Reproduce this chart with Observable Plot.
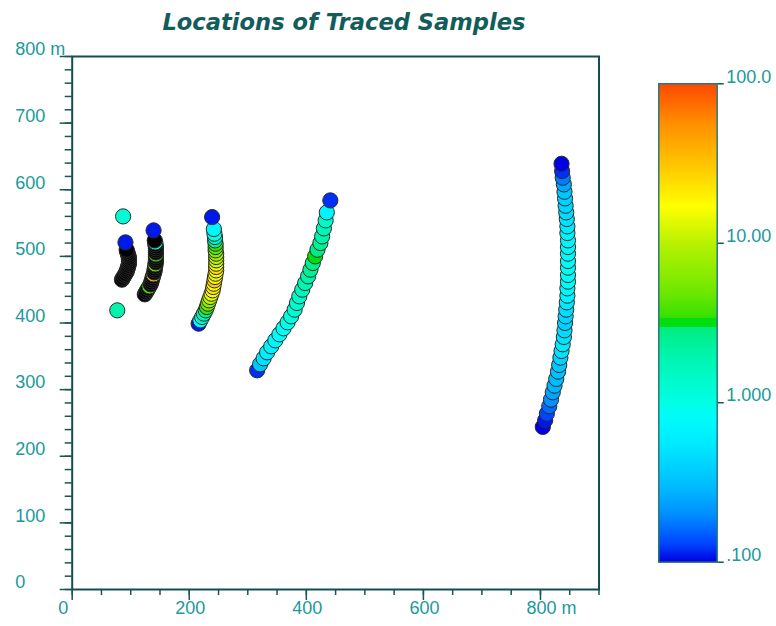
<!DOCTYPE html>
<html><head><meta charset="utf-8">
<script src="https://cdn.jsdelivr.net/npm/d3@7"></script>
<script src="https://cdn.jsdelivr.net/npm/@observablehq/plot@0.6"></script>
<style>
html,body{margin:0;padding:0;background:#fff;}
#wrap{position:relative;width:776px;height:626px;overflow:hidden;background:#fff;}
#title{position:absolute;left:0;width:688px;top:11px;text-align:center;font-family:"DejaVu Sans",sans-serif;font-style:italic;font-weight:bold;font-size:22.6px;line-height:22px;color:#135c5c;white-space:nowrap;}
#main{position:absolute;left:0;top:0;}
#bar{position:absolute;left:640px;top:0;}
svg{overflow:visible;}
</style></head><body>
<div id="wrap"><div id="title">Locations of Traced Samples</div><div id="main"></div><div id="bar"></div></div>
<script>
// ---- axis ticks and labels ----
const xMajor = [0, 200, 400, 600, 800];
const xTickLabels = ["0", "200", "400", "600", "800 m"];
const yMajor = [0, 100, 200, 300, 400, 500, 600, 700, 800];
const yTickLabels = ["0", "100", "200", "300", "400", "500", "600", "700", "800 m"];
const xMinor = d3.range(0, 901, 50);
const yMinor = d3.range(0, 801, 20);
const cbTicks = [0.1, 1, 10, 100];
const cbLabels = [".100", "1.000", "10.00", "100.0"];

// ---- colour scale (log, piecewise) ----
const colorStops = [0.1, 0.13, 0.2, 0.3, 0.55, 0.8, 1.0, 2.0, 2.93, 2.95, 3.38, 3.4, 5, 10, 17, 30, 55, 100];
const colorHexes = ["#0000e0", "#0044ff", "#0090ff", "#00bcff", "#00eaff", "#00fcf8", "#00ffe4", "#00f4aa", "#00ec80", "#00de12", "#00de12", "#34e000", "#70e800", "#b8f200", "#ffff00", "#ffc800", "#ff9000", "#ff4800"];

// ---- samples: group 1 (left, mostly unmeasured = null) ----
const g1X = [77, 85, 87, 89, 91, 93, 94, 95, 96, 97, 97, 97, 97, 96, 95, 94, 93, 91, 87];
const g1Y = [419, 465, 468, 471, 474, 477, 480, 483, 486, 489, 492, 495, 498, 501, 504, 507, 510, 521, 560];
const g1V = [2.0, null, null, null, null, null, null, null, null, null, null, null, null, null, null, null, null, 0.11, 1.2];

// group 2
const g2X = [124, 126, 128, 130, 132, 134, 135, 136, 137, 138, 139, 140, 141, 141, 142, 142, 143, 143, 143, 143, 143, 143, 143, 143, 143, 142, 142, 141, 139];
const g2Y = [443, 446, 449, 452, 455, 458, 461, 464, 467, 470, 473, 476, 479, 482, 485, 488, 491, 494, 497, 500, 503, 506, 509, 512, 515, 518, 521, 524, 539];
const g2V = [null, null, null, null, 4, null, null, null, null, null, 35, null, null, null, null, 5, null, null, null, null, 3.5, null, null, null, null, null, 1.0, null, 0.11];

// group 3
const g3X = [216, 219, 222, 225, 228, 230, 232, 234, 236, 238, 240, 241, 242, 243, 244, 245, 246, 246, 246, 246, 246, 246, 245, 245, 245, 244, 244, 243, 242, 239];
const g3Y = [399, 404, 409, 414, 419, 424, 429, 434, 439, 444, 449, 454, 459, 464, 469, 474, 479, 484, 489, 494, 499, 504, 509, 514, 519, 524, 529, 534, 541, 559];
const g3V = [0.11, 0.8, 1.2, 1.8, 2.5, 3.6, 5, 7, 10, 14, 18, 22, 16, 30, 20, 14, 18, 25, 15, 12, 10, 8, 6, 4.5, 3.5, 2.2, 1.5, 1.0, 0.7, 0.11];

// group 4
const g4X = [316, 321, 327, 333, 340, 347, 354, 361, 368, 374, 380, 384, 388, 393, 398, 403, 407, 411, 415, 419, 424, 427, 430, 433, 435, 441];
const g4Y = [329, 338, 347, 356, 365, 374, 383, 392, 401, 410, 420, 430, 440, 450, 460, 470, 480, 490, 500, 510, 520, 530, 542, 554, 566, 584];
const g4V = [0.12, 0.35, 0.5, 0.6, 0.65, 0.7, 0.8, 0.85, 0.95, 1.1, 1.2, 1.3, 1.4, 1.6, 1.8, 2.0, 2.4, 2.7, 3.2, 2.8, 2.4, 2.0, 1.7, 1.4, 0.7, 0.12];

// group 5 (right)
const g5X = [804, 808, 811, 815, 818, 821, 824, 827, 830, 832, 834, 836, 838, 840, 841, 842, 843, 844, 845, 846, 846, 847, 847, 847, 847, 847, 847, 847, 846, 846, 845, 844, 843, 842, 841, 840, 838, 837, 836];
const g5Y = [244, 254, 264, 275, 285, 296, 306, 316, 327, 337, 348, 358, 368, 379, 389, 400, 410, 420, 431, 441, 452, 462, 472, 483, 493, 504, 514, 524, 535, 545, 556, 566, 576, 587, 597, 608, 618, 628, 639];
const g5V = [0.1, 0.11, 0.13, 0.16, 0.2, 0.24, 0.28, 0.3, 0.32, 0.35, 0.4, 0.5, 0.55, 0.5, 0.45, 0.4, 0.42, 0.45, 0.55, 0.65, 0.72, 0.78, 0.8, 0.82, 0.8, 0.75, 0.72, 0.7, 0.65, 0.55, 0.5, 0.45, 0.42, 0.4, 0.35, 0.25, 0.18, 0.12, 0.1];

const groups = [[g1X, g1Y, g1V], [g2X, g2Y, g2V], [g3X, g3Y, g3V], [g4X, g4Y, g4V], [g5X, g5Y, g5V]];
const samples = [];
groups.forEach(([xs, ys, vs], g) => xs.forEach((x, i) => samples.push({g, x, y: ys[i], v: vs[i]})));

const labelColor = "#1a9a9a";
const tickColor = "#1a5454";
const labelFont = "Liberation Sans Narrow, Liberation Sans, Arial, sans-serif";
const colorScale = {type: "log", domain: colorStops, range: colorHexes, unknown: "black"};

const main = Plot.plot({
  width: 620, height: 626,
  marginLeft: 71.7, marginRight: 21.5, marginTop: 56, marginBottom: 37,
  x: {domain: [0, 900]},
  y: {domain: [0, 800]},
  color: colorScale,
  style: {background: "transparent", fontFamily: labelFont},
  marks: [
    Plot.axisY(yMinor, {anchor: "left", tickSize: 7, tickFormat: () => "", stroke: tickColor, strokeWidth: 1.5, label: null}),
    Plot.axisY(yMajor, {anchor: "left", tickSize: 12, tickFormat: () => "", stroke: tickColor, strokeWidth: 1.5, label: null}),
    Plot.axisX(xMinor, {anchor: "bottom", tickSize: 6, tickFormat: () => "", stroke: tickColor, strokeWidth: 1.5, label: null}),
    Plot.axisX(xMajor, {anchor: "bottom", tickSize: 11, tickFormat: () => "", stroke: tickColor, strokeWidth: 1.5, label: null}),
    Plot.text(yMajor, {y: d => d, text: (d, i) => yTickLabels[i], frameAnchor: "left", textAnchor: "start", dx: -57, dy: -7, fill: labelColor, fontSize: 18}),
    Plot.text(xMajor, {x: d => d, text: (d, i) => xTickLabels[i], frameAnchor: "bottom", textAnchor: "start", dx: -14, dy: 24, fill: labelColor, fontSize: 18}),
    Plot.dot(samples, {x: "x", y: "y", fill: "v", r: 7.6, stroke: "#2a2a2a", strokeWidth: 1}),
    Plot.frame({stroke: "#134f4f", strokeWidth: 2})
  ]
});
document.getElementById("main").appendChild(main);

const barSteps = d3.range(0, 480).map(i => [10 ** (-1 + 3 * i / 480), 10 ** (-1 + 3 * (i + 1) / 480)]);
const bar = Plot.plot({
  width: 136, height: 626,
  marginLeft: 18.3, marginRight: 59.3, marginTop: 83.3, marginBottom: 64.3,
  x: {domain: [0, 1], axis: null},
  y: {type: "log", domain: [0.1, 100]},
  color: colorScale,
  style: {background: "transparent", fontFamily: labelFont},
  marks: [
    Plot.rect(barSteps, {x1: 0, x2: 1, y1: d => d[0], y2: d => d[1], fill: d => Math.sqrt(d[0] * d[1]), shapeRendering: "crispEdges"}),
    Plot.frame({stroke: "#2a7a7a", strokeWidth: 1.5}),
    Plot.axisY(cbTicks, {anchor: "right", tickSize: 6, tickFormat: () => "", stroke: tickColor, strokeWidth: 1.5, label: null}),
    Plot.text(cbTicks, {y: d => d, text: (d, i) => cbLabels[i], frameAnchor: "right", textAnchor: "start", dx: 9, dy: -7, fill: labelColor, fontSize: 18})
  ]
});
document.getElementById("bar").appendChild(bar);
</script>
</body></html>
